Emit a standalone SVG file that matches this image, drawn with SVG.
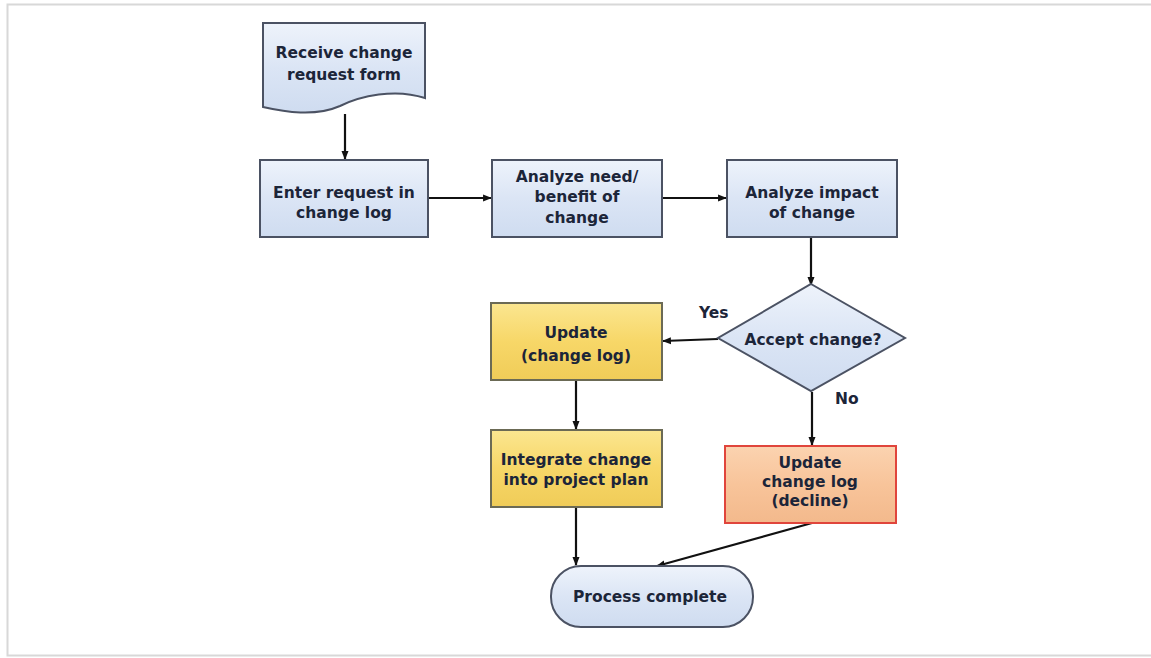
<svg xmlns="http://www.w3.org/2000/svg" width="1151" height="658" viewBox="0 0 1151 658">
<defs>
<linearGradient id="gBlue" x1="0" y1="0" x2="0" y2="1">
<stop offset="0" stop-color="#eef3fb"/><stop offset="0.5" stop-color="#dbe5f5"/><stop offset="1" stop-color="#cfdcf0"/>
</linearGradient>
<linearGradient id="gYel" x1="0" y1="0" x2="0" y2="1">
<stop offset="0" stop-color="#fbe690"/><stop offset="0.5" stop-color="#f7d768"/><stop offset="1" stop-color="#f0cc58"/>
</linearGradient>
<linearGradient id="gOr" x1="0" y1="0" x2="0" y2="1">
<stop offset="0" stop-color="#fbd3b0"/><stop offset="0.5" stop-color="#f8c49a"/><stop offset="1" stop-color="#f3b98c"/>
</linearGradient>
<marker id="arr" viewBox="0 0 10 10" refX="9" refY="5" markerWidth="4" markerHeight="4" orient="auto">
<path d="M0,1 L10,5 L0,9 z" fill="#111"/>
</marker>
</defs>
<style>
.blue{fill:url(#gBlue);stroke:#4b5263;stroke-width:2}
.yel{fill:url(#gYel);stroke:#6b6a55;stroke-width:2}
.org{fill:url(#gOr);stroke:#e0453c;stroke-width:2}
.t{font-family:"DejaVu Sans",Verdana,sans-serif;font-weight:bold;font-size:15.5px;fill:#1c2539;text-anchor:middle}
.lbl{font-family:"DejaVu Sans",Verdana,sans-serif;font-weight:bold;font-size:15.5px;fill:#1c2539}
.c{fill:none;stroke:#111;stroke-width:2.2;marker-end:url(#arr)}
</style>
<rect x="0" y="0" width="1151" height="658" fill="#ffffff"/>
<rect x="7.5" y="4.5" width="1150" height="651" fill="none" stroke="#d8d8d8" stroke-width="2"/>

<g id="connectors">
<path class="c" d="M345,114 L345,159"/>
<path class="c" d="M428,198 L491,198"/>
<path class="c" d="M662,198 L726,198"/>
<path class="c" d="M811,237 L811,285"/>
<path class="c" d="M718,339 L663,341"/>
<path class="c" d="M576,381 L576,429"/>
<path class="c" d="M812,392 L812,445"/>
<path class="c" d="M576,508 L576,565"/>
<path class="c" d="M812,523 L657,566"/>
</g>

<g id="n-receive">
<path class="blue" d="M263,23 L425,23 L425,98 C395,88 360,96 340,106 C315,117 285,112 263,107 Z"/>
<text class="t" x="344" y="58">Receive change</text>
<text class="t" x="344" y="80">request form</text>
</g>

<g id="n-enter">
<rect class="blue" x="260" y="160" width="168" height="77"/>
<text class="t" x="344" y="198">Enter request in</text>
<text class="t" x="344" y="218">change log</text>
</g>

<g id="n-need">
<rect class="blue" x="492" y="160" width="170" height="77"/>
<text class="t" x="577" y="182">Analyze need/</text>
<text class="t" x="577" y="202">benefit of</text>
<text class="t" x="577" y="223">change</text>
</g>

<g id="n-impact">
<rect class="blue" x="727" y="160" width="170" height="77"/>
<text class="t" x="812" y="198">Analyze impact</text>
<text class="t" x="812" y="218">of change</text>
</g>

<g id="n-accept">
<polygon class="blue" points="811,284 905,338 811,391 718,338"/>
<text class="t" x="813" y="345">Accept change?</text>
</g>
<text class="lbl" x="699" y="318">Yes</text>
<text class="lbl" x="835" y="404">No</text>

<g id="n-update">
<rect class="yel" x="491" y="303" width="171" height="77"/>
<text class="t" x="576" y="338">Update</text>
<text class="t" x="576" y="361">(change log)</text>
</g>

<g id="n-integrate">
<rect class="yel" x="491" y="430" width="171" height="77"/>
<text class="t" x="576" y="465">Integrate change</text>
<text class="t" x="576" y="485">into project plan</text>
</g>

<g id="n-decline">
<rect class="org" x="725" y="446" width="171" height="77"/>
<text class="t" x="810" y="468">Update</text>
<text class="t" x="810" y="487">change log</text>
<text class="t" x="810" y="506">(decline)</text>
</g>

<g id="n-complete">
<rect class="blue" x="551" y="566" width="202" height="61" rx="30" ry="30"/>
<text class="t" x="650" y="602">Process complete</text>
</g>
</svg>
